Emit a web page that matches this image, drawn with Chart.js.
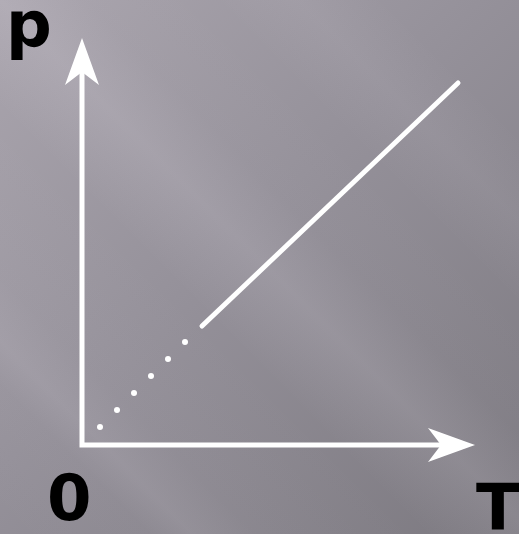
<!DOCTYPE html>
<html>
<head>
<meta charset="utf-8">
<script src="https://cdn.jsdelivr.net/npm/chart.js@4.4.1/dist/chart.umd.min.js"></script>
<style>
  html, body { margin: 0; padding: 0; background: #8c898f; }
  #wrap { position: relative; width: 519px; height: 534px; }
</style>
</head>
<body>
<div id="wrap"><canvas id="pt-chart"></canvas></div>
<script>
// ------------- p-T diagram (isochoric process) --------------------------- //

// axes: up the p axis, through the origin, out along T
var axisT = [0, 0, 36]
var axisP = [37.3, 0, 0]

// arrow tips of the two axes
var arrowT = [0, 39.3]
var arrowP = [40.7, 0]
var arrowTurn = [0, 90]

// dotted part (extrapolation towards 0)
var dotT = [1.8, 3.5, 5.2, 6.9, 8.6, 10.3]
var dotP = [1.8, 3.5, 5.2, 6.9, 8.6, 10.3]

// measured straight line
var lineT = [12, 37.6]
var lineP = [11.9, 36.2]

// axis labels
var labels = [
    { text: "p", x: 6, y: 47 },
    { text: "0", x: 47, y: 520 },
    { text: "T", x: 476, y: 530 }
]

function toPoints(xs, ys) {
    return xs.map(function (x, i) { return { x: x, y: ys[i] } })
}

// arrowhead drawn once, pointing up, tip in the middle of the canvas
var arrowHead = document.createElement("canvas")
arrowHead.width = 100
arrowHead.height = 100
var ac = arrowHead.getContext("2d")
ac.fillStyle = "#ffffff"
ac.beginPath()
ac.moveTo(50, 50)
ac.lineTo(67, 97)
ac.lineTo(50, 84)
ac.lineTo(33, 97)
ac.closePath()
ac.fill()

var backdrop = {
    id: "backdrop",
    beforeDraw: function (chart) {
        var ctx = chart.ctx, w = chart.width, h = chart.height
        ctx.save()
        var g = ctx.createLinearGradient(0, 0, w, h)
        g.addColorStop(0, "#aaa5ae")
        g.addColorStop(0.45, "#95919a")
        g.addColorStop(1, "#7c7980")
        ctx.fillStyle = g
        ctx.fillRect(0, 0, w, h)
        // soft light streaks running down to the right
        var s = ctx.createLinearGradient(0, h, h, 0)
        s.addColorStop(0.00, "rgba(235,230,240,0)")
        s.addColorStop(0.14, "rgba(235,230,240,0.02)")
        s.addColorStop(0.18, "rgba(235,230,240,0.10)")
        s.addColorStop(0.24, "rgba(235,230,240,0.03)")
        s.addColorStop(0.40, "rgba(235,230,240,0)")
        s.addColorStop(0.50, "rgba(235,230,240,0.12)")
        s.addColorStop(0.58, "rgba(235,230,240,0.02)")
        s.addColorStop(0.70, "rgba(235,230,240,0)")
        s.addColorStop(0.78, "rgba(235,230,240,0.06)")
        s.addColorStop(0.86, "rgba(235,230,240,0)")
        s.addColorStop(1.00, "rgba(235,230,240,0)")
        ctx.fillStyle = s
        ctx.fillRect(0, 0, w, h)
        ctx.restore()
    },
    afterDraw: function (chart) {
        var ctx = chart.ctx
        ctx.save()
        ctx.fillStyle = "#000000"
        ctx.font = 'bold 64px "DejaVu Sans"'
        ctx.textAlign = "left"
        ctx.textBaseline = "alphabetic"
        labels.forEach(function (l) { ctx.fillText(l.text, l.x, l.y) })
        ctx.restore()
    }
}

var ptChart = new Chart("pt-chart", {
    type: "scatter",
    data: {
        datasets: [{
            type: "line",
            data: toPoints(axisT, axisP),
            borderColor: "#ffffff",
            borderWidth: 5,
            borderJoinStyle: "miter",
            pointRadius: 0,
            clip: false
        }, {
            data: toPoints(arrowT, arrowP),
            pointStyle: arrowHead,
            pointRadius: 10,
            rotation: arrowTurn,
            clip: false
        }, {
            data: toPoints(dotT, dotP),
            backgroundColor: "#ffffff",
            borderWidth: 0,
            pointRadius: 3,
            clip: false
        }, {
            type: "line",
            data: toPoints(lineT, lineP),
            borderColor: "#ffffff",
            borderWidth: 5,
            borderCapStyle: "round",
            pointRadius: 0,
            clip: false
        }]
    },
    options: {
        responsive: true,
        maintainAspectRatio: false,
        animation: false,
        events: [],
        layout: { padding: 0, autoPadding: false },
        plugins: {
            legend: { display: false },
            tooltip: { enabled: false }
        },
        scales: {
            x: { type: "linear", display: false, min: -8.2, max: 43.7 },
            y: { type: "linear", display: false, min: -8.9, max: 44.5 }
        }
    },
    plugins: [backdrop]
});
</script>
</body>
</html>
